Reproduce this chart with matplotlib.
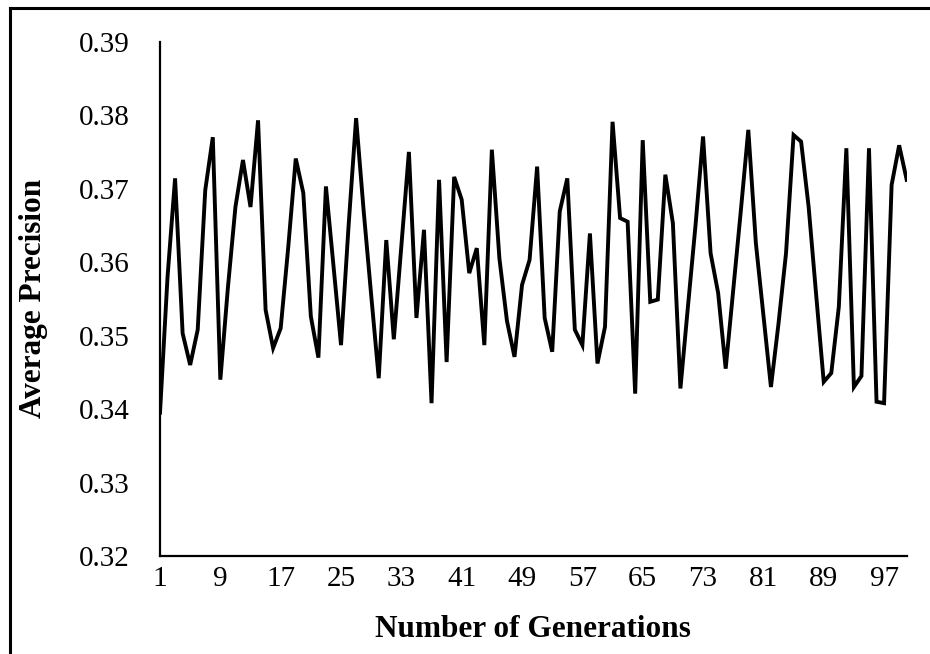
import matplotlib
matplotlib.use('Agg')
import matplotlib.pyplot as plt
from matplotlib.lines import Line2D

# generations 1..100 and the average precision
generations = list(range(1, 101))
avg_precision = [
    0.3395, 0.3580, 0.3714, 0.3503, 0.3460, 0.3508, 0.3698, 0.3770, 0.3440, 0.3565,
    0.3675, 0.3739, 0.3675, 0.3793, 0.3535, 0.3483, 0.3510, 0.3620, 0.3741, 0.3694,
    0.3526, 0.3470, 0.3703, 0.3595, 0.3487, 0.3649, 0.3796, 0.3670, 0.3555, 0.3442,
    0.3630, 0.3495, 0.3622, 0.3750, 0.3524, 0.3644, 0.3408, 0.3712, 0.3464, 0.3716,
    0.3685, 0.3585, 0.3619, 0.3487, 0.3753, 0.3605, 0.3520, 0.3471, 0.3569, 0.3603,
    0.3730, 0.3524, 0.3478, 0.3669, 0.3714, 0.3508, 0.3487, 0.3639, 0.3462, 0.3512,
    0.3791, 0.3660, 0.3655, 0.3421, 0.3766, 0.3546, 0.3549, 0.3719, 0.3653, 0.3428,
    0.3540, 0.3650, 0.3771, 0.3612, 0.3558, 0.3455, 0.3562, 0.3669, 0.3780, 0.3626,
    0.3528, 0.3430, 0.3516, 0.3612, 0.3773, 0.3764, 0.3675, 0.3555, 0.3437, 0.3449,
    0.3539, 0.3755, 0.3430, 0.3445, 0.3755, 0.3410, 0.3408, 0.3705, 0.3759, 0.3712,
]
xtick_labels = [1, 9, 17, 25, 33, 41, 49, 57, 65, 73, 81, 89, 97]
ytick_values = [0.32, 0.33, 0.34, 0.35, 0.36, 0.37, 0.38, 0.39]

plt.rcParams['font.family'] = ['Liberation Serif', 'DejaVu Serif']

fig = plt.figure(figsize=(9.3, 6.54), dpi=100)
ax = fig.add_axes([160 / 930, 1 - 556 / 654, (906.7 - 160) / 930, (556 - 41.7) / 654])

ax.plot(generations, avg_precision, color='black', lw=2.8, solid_joinstyle='miter')

ax.set_xlim(1, 100)
ax.set_ylim(0.32, 0.39)
ax.set_xticks(xtick_labels)
ax.set_xticklabels([str(v) for v in xtick_labels])
ax.set_yticks(ytick_values)
ax.set_yticklabels(['%.2f' % v for v in ytick_values])
ax.tick_params(axis='both', length=0, labelsize=21)
ax.tick_params(axis='y', pad=22)
ax.tick_params(axis='x', pad=7)

for s in ['top', 'right']:
    ax.spines[s].set_visible(False)
for s in ['left', 'bottom']:
    ax.spines[s].set_linewidth(1.6)
    ax.spines[s].set_color('black')

ax.set_xlabel('Number of Generations', fontsize=22.5, fontweight='bold')
ax.set_ylabel('Average Precision', fontsize=22.5, fontweight='bold')
ax.xaxis.set_label_coords(0.5, -0.115)
ax.yaxis.set_label_coords(-0.150, 0.5)

# frame of the original chart area (left and top edges visible)
fig.add_artist(Line2D([10 / 930, 10 / 930], [0, 1 - 8 / 654], transform=fig.transFigure, color='black', lw=2.2))
fig.add_artist(Line2D([10 / 930, 1], [1 - 8 / 654, 1 - 8 / 654], transform=fig.transFigure, color='black', lw=2.2))

fig.savefig('out.png', dpi=100)
